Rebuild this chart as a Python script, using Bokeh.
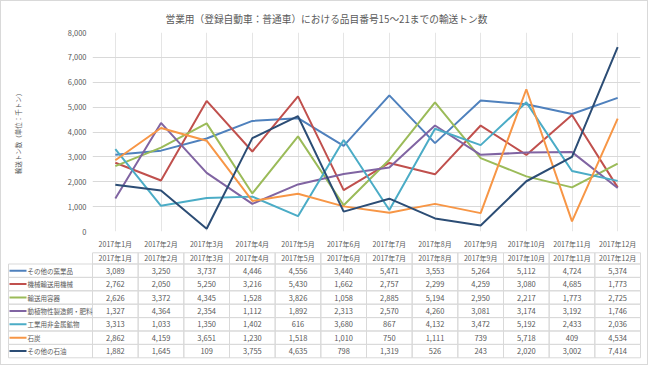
from bokeh.plotting import figure
from bokeh.models import Range1d, FactorRange, FixedTicker, NumeralTickFormatter, ColumnDataSource
from bokeh.layouts import column
from bokeh.embed import file_html
from bokeh.resources import INLINE
from bokeh.core.properties import value

# ---------------- data ----------------
title_text = "営業用（登録自動車：普通車）における品目番号15～21までの輸送トン数"
y_title = "輸送トン数（単位：千トン）"
months = ["2017年1月", "2017年2月", "2017年3月", "2017年4月", "2017年5月", "2017年6月",
          "2017年7月", "2017年8月", "2017年9月", "2017年10月", "2017年11月", "2017年12月"]
series_names = ["その他の窯業品", "機械輸送用機械", "輸送用容器", "動植物性製造飼・肥料",
                "工業用非金属鉱物", "石炭", "その他の石油"]
yogyo = [3089, 3250, 3737, 4446, 4556, 3440, 5471, 3553, 5264, 5112, 4724, 5374]
kikai = [2762, 2050, 5250, 3216, 5430, 1662, 2757, 2299, 4259, 3080, 4685, 1773]
yoki = [2626, 3372, 4345, 1528, 3826, 1058, 2885, 5194, 2950, 2217, 1773, 2725]
shiryo = [1327, 4364, 2354, 1112, 1892, 2313, 2570, 4260, 3081, 3174, 3192, 1746]
kobutsu = [3313, 1033, 1350, 1402, 616, 3680, 867, 4132, 3472, 5192, 2433, 2036]
sekitan = [2862, 4159, 3651, 1230, 1518, 1010, 750, 1111, 739, 5718, 409, 4534]
sekiyu = [1882, 1645, 109, 3755, 4635, 798, 1319, 526, 243, 2020, 3002, 7414]
series_values = [yogyo, kikai, yoki, shiryo, kobutsu, sekitan, sekiyu]
colors = ["#4F81BD", "#C0504D", "#9BBB59", "#8064A2", "#4BACC6", "#F79646", "#2C4D75"]
y_ticks = [0, 1000, 2000, 3000, 4000, 5000, 6000, 7000, 8000]

# ---------------- layout constants ----------------
FONT = "Noto Sans CJK JP"
TXT = "#595959"
GRID = "#d9d9d9"
FIG_W = 646
LEFT = 91          # frame left edge (px)
RIGHT = 7          # right border (px)
PLOT_W = FIG_W - LEFT - RIGHT
COL_W = PLOT_W / 12.0
H1 = 236
H2 = 127
AXIS_LABEL_Y = 6.0
HEADER_TOP = 15.3
HEADER_H = 11.2
ROW_H = 13.4


def page_x(px):
    return (px - LEFT) / COL_W


# ---------------- chart ----------------
p = figure(width=FIG_W, height=H1, x_range=FactorRange(*months), y_range=Range1d(0, 8000),
           output_backend="svg", toolbar_location=None, x_axis_location=None,
           min_border_left=LEFT, min_border_right=RIGHT, min_border_top=31, min_border_bottom=6)
p.outline_line_color = None
p.title.text = title_text
p.title.text_font = FONT
p.title.text_font_size = "9.7px"
p.title.text_font_style = "normal"
p.title.text_color = TXT
p.title.align = "left"
p.title.offset = 73
p.title.standoff = 14

for vals, c in zip(series_values, colors):
    p.line(months, vals, line_color=c, line_width=2)

p.ygrid.ticker = FixedTicker(ticks=y_ticks)
p.ygrid.grid_line_color = GRID
p.ygrid.grid_line_width = 1

p.yaxis.ticker = FixedTicker(ticks=y_ticks)
p.yaxis.formatter = NumeralTickFormatter(format="0,0")
p.yaxis.axis_line_color = None
p.yaxis.major_tick_line_color = None
p.yaxis.minor_tick_line_color = None
p.yaxis.major_tick_out = 0
p.yaxis.major_tick_in = 0
p.yaxis.minor_tick_out = 0
p.yaxis.major_label_standoff = 6
p.yaxis.major_label_text_font = FONT
p.yaxis.major_label_text_font_size = "7.5px"
p.yaxis.major_label_text_color = TXT
p.yaxis.axis_label = y_title
p.yaxis.axis_label_text_font = FONT
p.yaxis.axis_label_text_font_size = "6.5px"
p.yaxis.axis_label_text_font_style = "normal"
p.yaxis.axis_label_text_color = TXT
p.yaxis.axis_label_standoff = 42

# ---------------- category labels + data table ----------------
t = figure(width=FIG_W, height=H2, x_range=Range1d(-LEFT / COL_W, 12 + RIGHT / COL_W),
           y_range=Range1d(H2, 0),
           output_backend="svg", toolbar_location=None,
           x_axis_location=None, y_axis_location=None,
           min_border_left=0, min_border_right=0, min_border_top=0, min_border_bottom=0)
t.outline_line_color = None
t.grid.visible = False

n_rows = len(series_names)
body_top = HEADER_TOP + HEADER_H
xc = [i + 0.5 for i in range(12)]

# category axis labels
t.text(x=xc, y=[AXIS_LABEL_Y] * 12, text=months, text_font=value(FONT), text_font_size="7px",
       text_color=TXT, text_align="center", text_baseline="middle")

# header cells
hdr = ColumnDataSource(dict(
    left=list(range(12)), right=[i + 1 for i in range(12)],
    top=[HEADER_TOP] * 12, bottom=[body_top] * 12,
    xc=xc, yc=[HEADER_TOP + HEADER_H / 2] * 12, label=months))
t.quad(left="left", right="right", top="top", bottom="bottom", source=hdr,
       fill_color=None, line_color=GRID, line_width=1)
t.text(x="xc", y="yc", text="label", source=hdr, text_font=value(FONT), text_font_size="7px",
       text_color=TXT, text_align="center", text_baseline="middle")

# body cells
L, R, T, B, XC, YC, LAB = [], [], [], [], [], [], []
for k, vals in enumerate(series_values):
    top = body_top + ROW_H * k
    bot = top + ROW_H
    L.append(page_x(7)); R.append(0); T.append(top); B.append(bot)
    for i, v in enumerate(vals):
        L.append(i); R.append(i + 1); T.append(top); B.append(bot)
        XC.append(i + 0.5); YC.append(top + ROW_H / 2); LAB.append(f"{v:,}")
t.quad(left=L, right=R, top=T, bottom=B, fill_color=None, line_color=GRID, line_width=1)
t.text(x=XC, y=YC, text=LAB, text_font=value(FONT), text_font_size="7.5px",
       text_color=TXT, text_align="center", text_baseline="middle")

# legend keys + names
row_c = [body_top + ROW_H * (k + 0.5) for k in range(n_rows)]
t.segment(x0=[page_x(8)] * n_rows, x1=[page_x(25)] * n_rows, y0=row_c, y1=row_c,
          line_color=colors, line_width=2)
t.text(x=[page_x(26)] * n_rows, y=row_c, text=series_names, text_font=value(FONT),
       text_font_size="6.5px", text_color=TXT, text_align="left", text_baseline="middle")

layout = column(column(p), column(t), spacing=0,
                styles={"border": "1px solid #d9d9d9"})
open("out.html", "w").write(file_html(layout, INLINE))
